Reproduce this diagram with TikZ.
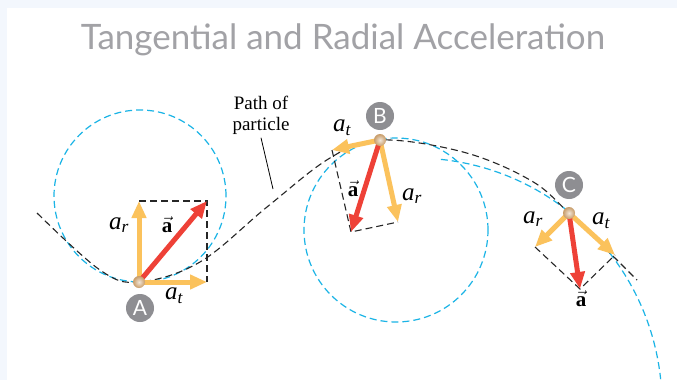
\documentclass[tikz,border=0pt]{standalone}
\usepackage{fontspec}
\setmainfont{Liberation Serif}
\newfontfamily\titlefont{Lato}
\usetikzlibrary{arrows.meta,positioning}
\definecolor{pagesoft}{HTML}{F3F7FD}
\definecolor{titlegray}{HTML}{A2A2A6}
\definecolor{pathcyan}{HTML}{1BB4E6}
\definecolor{accorange}{HTML}{FBC25C}
\definecolor{accred}{HTML}{EE4137}
\definecolor{taggray}{HTML}{8E8E92}
\definecolor{balltan}{HTML}{C89C68}

\begin{document}
\begin{tikzpicture}[x=1pt,y=-1pt,
  cdash/.style={draw=pathcyan,line width=1.2pt,dash pattern=on 7pt off 4pt},
  pdash/.style={draw=black!85,line width=1.1pt,dash pattern=on 7pt off 4pt},
  comp/.style={-{Triangle[length=17pt,width=14pt]},color=accorange,line width=5pt},
  acc/.style={-{Triangle[length=17pt,width=14pt]},color=accred,line width=5pt},
  dot/.style={circle,inner sep=0pt,minimum size=12pt,shading=radial,inner color=balltan!25!white,outer color=balltan},
  tag/.style={circle,fill=taggray,text=white,inner sep=0pt,minimum size=28pt,font=\titlefont\fontsize{21}{21}\selectfont},
  lbl/.style={font=\fontsize{25}{25}\selectfont\itshape,inner sep=1pt},
  vlbl/.style={font=\fontsize{21}{21}\selectfont,inner sep=1pt}]
\fill[pagesoft] (0,0) rectangle (677,380);
\fill[white] (7,8) rectangle (677,380);
\useasboundingbox (0,0) rectangle (677,380);
\node[font=\titlefont\fontsize{35}{35}\selectfont,text=titlegray] (title) at (343,40) {Tangential and Radial Acceleration};
% circles of curvature
\draw[cdash] (140,196) circle[radius=86pt];
\draw[cdash] (396,230) circle[radius=92pt];
\draw[cdash] (415,405) ++(84:247pt) arc[start angle=84,end angle=6,radius=247pt];
% path of the particle
\draw[pdash] plot[smooth,tension=0.6] coordinates {(37,213) (100,270) (139,282) (200,262) (267,207) (330,158) (380,140) (463,152) (530,180) (569,213) (637,280)};
\coordinate (A) at (139,282); \coordinate (Ar) at (139,201); \coordinate (At) at (207,282); \coordinate (Aa) at (207,201);
\coordinate (B) at (380,140); \coordinate (Br) at (398,222); \coordinate (Bt) at (332,150); \coordinate (Ba) at (351,232);
\coordinate (C) at (569,213); \coordinate (Cr) at (535,247); \coordinate (Ct) at (615,255); \coordinate (Ca) at (580,289);
\draw[pdash] (Ar) -- (Aa) -- (At);
\draw[pdash] (Bt) -- (Ba) -- (Br);
\draw[pdash] (Cr) -- (Ca) -- (Ct);
\draw[comp] (A) -- (Ar); \draw[comp] (A) -- (At); \draw[acc] (A) -- (Aa);
\draw[comp] (B) -- (Br); \draw[comp] (B) -- (Bt); \draw[acc] (B) -- (Ba);
\draw[comp] (C) -- (Cr); \draw[comp] (C) -- (Ct); \draw[acc] (C) -- (Ca);
\node[dot] (dotA) at (A) {};
\node[dot] (dotB) at (B) {};
\node[dot] (dotC) at (C) {};
% labels
\node[tag] (tagA) at (140,308) {A};
\node[tag] (tagB) at (380,116) {B};
\node[tag] (tagC) at (569,185) {C};
\node[lbl] (arA) at (119,225) {a\textsubscript{r}};
\node[lbl] (atA) at (174,296) {a\textsubscript{t}};
\node[vlbl] (aA) at (167,225) {$\vec{\textbf{a}}$};
\node[lbl] (atB) at (342,128) {a\textsubscript{t}};
\node[lbl] (arB) at (412,196) {a\textsubscript{r}};
\node[vlbl] (aB) at (353,189) {$\vec{\textbf{a}}$};
\node[lbl] (arC) at (533,219) {a\textsubscript{r}};
\node[lbl] (atC) at (601,221) {a\textsubscript{t}};
\node[vlbl] (aC) at (581,299) {$\vec{\textbf{a}}$};
\node[font=\fontsize{19}{21}\selectfont,align=center] (pathlbl) at (261,115) {Path of\\particle};
\coordinate (pathpt) at (273,189);
\draw[line width=0.8pt] (pathlbl.south) -- (pathpt);
\end{tikzpicture}
\end{document}
